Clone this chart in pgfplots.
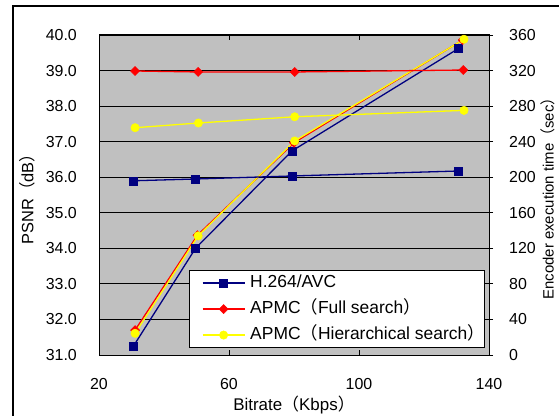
\documentclass[border=0pt]{standalone}
\usepackage{pgfplots}
\pgfplotsset{compat=1.18}
\usepackage{fontspec}
\setmainfont{Liberation Sans}
\newfontfamily\cjk{Noto Sans CJK JP}
\newcommand{\lp}{{\cjk （}}
\newcommand{\rp}{{\cjk ）}}
\definecolor{navy}{RGB}{0,0,128}
\definecolor{bggray}{RGB}{192,192,192}
\definecolor{yel}{RGB}{255,255,0}
\begin{document}
\begin{tikzpicture}
\useasboundingbox (0,0) rectangle (559bp,416bp);
\draw[line width=1.7bp] (13bp,0) -- (13bp,410bp) -- (560bp,410bp);
\begin{axis}[
  at={(99bp,61bp)}, anchor=south west,
  scale only axis, width=390bp, height=320bp,
  xmin=20, xmax=140, ymin=31, ymax=40,
  xtick={20,60,100,140}, ytick={31,32,33,34,35,36,37,38,39,40},
  axis background/.style={fill=bggray},
  ymajorgrids, major grid style={black, line width=0.8bp},
  axis line style={black, line width=1bp},
  tick align=inside, major tick length=5bp, tick style={black, line width=0.8bp},
  ytick style={draw=none},
  clip=false,
  /pgf/number format/assume math mode=true,
  ticklabel style={font=\fontsize{16}{19}\selectfont, inner sep=0pt},
  yticklabel style={/pgf/number format/.cd, fixed, fixed zerofill, precision=1, /tikz/.cd},
  yticklabel shift=22bp, xticklabel shift=23bp,
  xlabel={Bitrate\lp Kbps\rp}, ylabel={PSNR\lp dB\rp},
  xlabel style={at={(axis description cs:0.5,-0.15625)}, anchor=center, font=\fontsize{17}{20}\selectfont},
  ylabel style={at={(axis description cs:-0.1846,0.5)}, anchor=center, font=\fontsize{16.5}{20}\selectfont},
  legend cell align=left,
  legend style={at={(axis description cs:0.99,0.022)}, anchor=south east,
    font=\fontsize{17.5}{20}\selectfont, draw=black, line width=0.8bp, fill=white,
    inner xsep=0bp, inner ysep=4bp, row sep=9bp,
    nodes={inner sep=0pt, text height=13bp, text depth=4bp},
    column sep=5bp},
  legend image code/.code={\path (-13bp,0bp); \draw[mark repeat=2,mark phase=2,#1] plot coordinates {(0bp,0bp) (21bp,0bp) (42bp,0bp)};},
]
\addplot[navy, line width=1.3bp, mark=square*, mark size=4bp, mark options={fill=navy, draw=navy, line width=0.5bp}]
  coordinates {(30.6,31.25) (49.7,34.0) (79.4,36.74) (130.6,39.62)};
\addlegendentry{H.264/AVC}
\addplot[red, line width=1.3bp, mark=square*, mark size=3.2bp, mark options={fill=red, draw=red, rotate=45, line width=0.5bp}]
  coordinates {(31.1,31.7) (50.3,34.37) (80.0,36.97) (131.9,39.86)};
\addlegendentry{APMC\lp Full search\rp}
\addplot[yel, line width=1.3bp, mark=*, mark size=4.2bp, mark options={fill=yel, draw=yel, line width=0.5bp}]
  coordinates {(31.1,31.61) (50.5,34.35) (80.2,37.02) (132.3,39.88)};
\addlegendentry{APMC\lp Hierarchical search\rp}
\end{axis}
\begin{axis}[
  at={(99bp,61bp)}, anchor=south west,
  scale only axis, width=390bp, height=320bp,
  xmin=20, xmax=140, ymin=0, ymax=360,
  axis y line*=right, axis x line=none,
  ytick={0,40,80,120,160,200,240,280,320,360},
  axis line style={black, line width=1bp},
  tick align=outside, major tick length=4bp, tick style={black, line width=0.8bp},
  clip=false,
  /pgf/number format/assume math mode=true,
  ticklabel style={font=\fontsize{16}{19}\selectfont, inner sep=0pt},
  yticklabel shift=16bp,
  ylabel={Encoder execution time\lp sec\rp},
  ylabel style={at={(axis description cs:1.1513,0.5)}, anchor=center, font=\fontsize{15}{18}\selectfont},
]
\addplot[navy, line width=1.3bp, mark=square*, mark size=4bp, mark options={fill=navy, draw=navy, line width=0.5bp}]
  coordinates {(30.6,196) (49.7,198) (79.4,201.4) (130.6,207)};
\addplot[red, line width=1.3bp, mark=square*, mark size=3.2bp, mark options={fill=red, draw=red, rotate=45, line width=0.5bp}]
  coordinates {(31.1,319.5) (50.5,318.4) (80.2,318.4) (132.1,320.6)};
\addplot[yel, line width=1.3bp, mark=*, mark size=4.2bp, mark options={fill=yel, draw=yel, line width=0.5bp}]
  coordinates {(31.1,255.7) (50.6,261) (80.2,268) (132.3,275.2)};
\end{axis}
\end{tikzpicture}
\end{document}
